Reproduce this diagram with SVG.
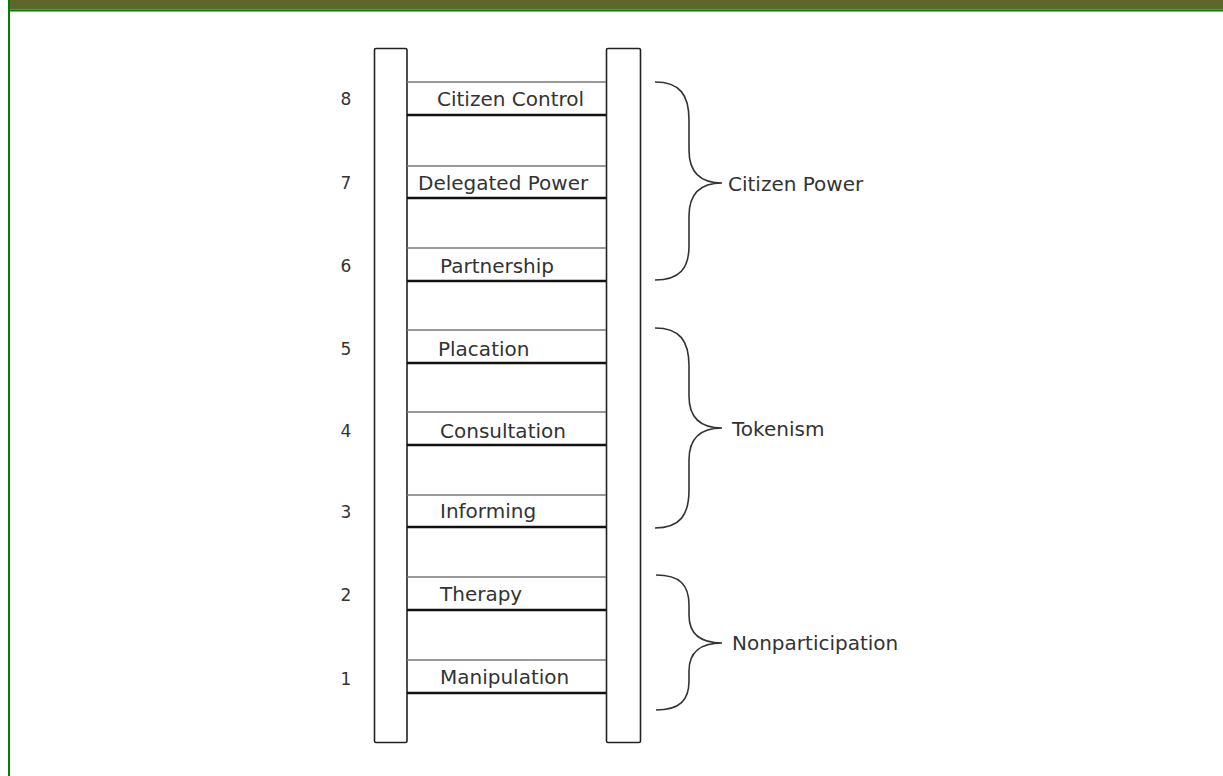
<svg xmlns="http://www.w3.org/2000/svg" width="1223" height="776" viewBox="0 0 1223 776">
<style>
.rail{fill:#fff;stroke:#222;stroke-width:1.6}
.rt{stroke:#777;stroke-width:1.5}
.rb{stroke:#111;stroke-width:2.5}
.lbl{font-family:"DejaVu Sans",sans-serif;font-size:20px;fill:#333}
.num{font-family:"DejaVu Sans",sans-serif;font-size:17px;fill:#333;text-anchor:middle}
.brace{fill:none;stroke:#333;stroke-width:1.6}
</style>
<rect x="0" y="0" width="1223" height="776" fill="#fff"/>
<rect x="10" y="0" width="1213" height="9.5" fill="#5e6629"/>
<rect x="8" y="9.5" width="1215" height="2" fill="#008000"/>
<rect x="8" y="0" width="2" height="776" fill="#008000"/>
<g id="ladder">
<rect class="rail" x="374.5" y="48.5" width="32.5" height="694" rx="1.5"/>
<rect class="rail" x="606.5" y="48.5" width="34" height="694" rx="1.5"/>
</g>
<g id="rung8"><line class="rt" x1="407" y1="82" x2="606" y2="82"/><line class="rb" x1="407" y1="115" x2="606" y2="115"/><text class="num" x="346" y="105">8</text><text class="lbl" x="437" y="106">Citizen Control</text></g>
<g id="rung7"><line class="rt" x1="407" y1="166" x2="606" y2="166"/><line class="rb" x1="407" y1="198" x2="606" y2="198"/><text class="num" x="346" y="189">7</text><text class="lbl" x="418" y="190">Delegated Power</text></g>
<g id="rung6"><line class="rt" x1="407" y1="248" x2="606" y2="248"/><line class="rb" x1="407" y1="281" x2="606" y2="281"/><text class="num" x="346" y="272">6</text><text class="lbl" x="440" y="273">Partnership</text></g>
<g id="rung5"><line class="rt" x1="407" y1="330" x2="606" y2="330"/><line class="rb" x1="407" y1="363" x2="606" y2="363"/><text class="num" x="346" y="355">5</text><text class="lbl" x="438" y="356">Placation</text></g>
<g id="rung4"><line class="rt" x1="407" y1="412" x2="606" y2="412"/><line class="rb" x1="407" y1="445" x2="606" y2="445"/><text class="num" x="346" y="437">4</text><text class="lbl" x="440" y="438">Consultation</text></g>
<g id="rung3"><line class="rt" x1="407" y1="495" x2="606" y2="495"/><line class="rb" x1="407" y1="527" x2="606" y2="527"/><text class="num" x="346" y="518">3</text><text class="lbl" x="440" y="518">Informing</text></g>
<g id="rung2"><line class="rt" x1="407" y1="577" x2="606" y2="577"/><line class="rb" x1="407" y1="610" x2="606" y2="610"/><text class="num" x="346" y="601">2</text><text class="lbl" x="440" y="601">Therapy</text></g>
<g id="rung1"><line class="rt" x1="407" y1="660" x2="606" y2="660"/><line class="rb" x1="407" y1="693" x2="606" y2="693"/><text class="num" x="346" y="685">1</text><text class="lbl" x="440" y="684">Manipulation</text></g>
<g id="connectors">
<path class="brace" d="M655,82 C680,82 689,95 689,120 L689,150 C689,172 700,183 722,183 C700,183 689,194 689,216 L689,246 C689,268 680,280 655,280"/>
<path class="brace" d="M655,328 C680,328 689,341 689,366 L689,396 C689,418 700,428 722,428 C700,428 689,438 689,460 L689,490 C689,515 680,528 655,528"/>
<path class="brace" d="M656,575 C680,575 689,585 689,605 L689,615 C689,633 700,643 722,643 C700,643 689,653 689,671 L689,681 C689,700 680,710 656,710"/>
</g>
<g id="group-labels">
<text class="lbl" x="728" y="191">Citizen Power</text>
<text class="lbl" x="732" y="436">Tokenism</text>
<text class="lbl" x="732" y="650">Nonparticipation</text>
</g>
</svg>
